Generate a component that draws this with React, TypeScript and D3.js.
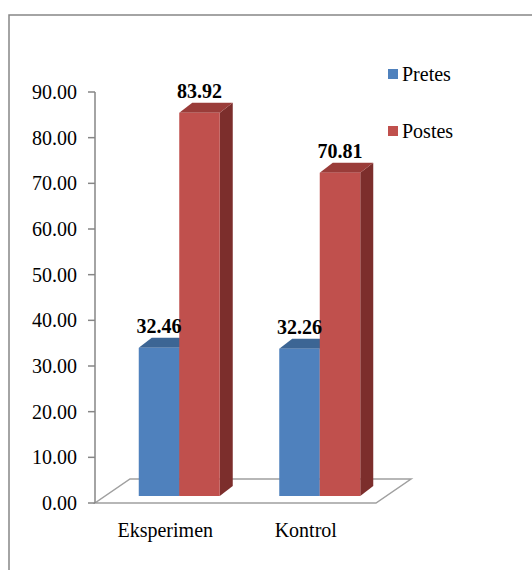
import React, { useEffect, useRef } from "react"
import * as d3 from "d3"

const categories = ["Eksperimen", "Kontrol"]
const seriesNames = ["Pretes", "Postes"]
const pretes = [32.46, 32.26]
const postes = [83.92, 70.81]
const yTicks = [0, 10, 20, 30, 40, 50, 60, 70, 80, 90]
const colors = ["#4F81BD", "#C0504D"]
const topColors = ["#3C6594", "#9A3C39"]
const sideColors = ["#345A85", "#7C2E2C"]

export default function App() {
  const svgRef = useRef<SVGSVGElement>(null)

  useEffect(() => {
    if (!svgRef.current) return
    const svg = d3.select(svgRef.current)
    svg.selectAll("*").remove()

    const font = "Times New Roman, Liberation Serif, DejaVu Serif, serif"

    // outer frame (cut off on the right and bottom)
    svg
      .append("rect")
      .attr("x", 9)
      .attr("y", 15)
      .attr("width", 600)
      .attr("height", 600)
      .attr("fill", "#fff")
      .attr("stroke", "#868686")
      .attr("stroke-width", 1.5)

    const x = d3.scaleBand<string>().domain(categories).range([95, 376])
    const y = d3.scaleLinear().domain([0, 90]).range([503, 92])

    // depth vectors
    const floorDx = 35
    const floorDy = -24
    const barShiftX = 14
    const barShiftY = -7
    const depthX = 13
    const depthY = -10
    const barW = 40.5

    // floor
    const x0 = x.range()[0]
    const x1 = x.range()[1]
    const y0 = y(0)
    svg
      .append("path")
      .attr(
        "d",
        `M${x0},${y0}L${x1},${y0}L${x1 + floorDx},${y0 + floorDy}L${x0 + floorDx},${y0 + floorDy}Z`
      )
      .attr("fill", "none")
      .attr("stroke", "#a0a0a0")
      .attr("stroke-width", 1.5)

    // y axis
    svg
      .append("line")
      .attr("x1", x0)
      .attr("x2", x0)
      .attr("y1", y(0))
      .attr("y2", y(90))
      .attr("stroke", "#868686")
      .attr("stroke-width", 1.5)

    const ticks = svg.append("g")
    yTicks.forEach((t) => {
      ticks
        .append("line")
        .attr("x1", x0 - 7)
        .attr("x2", x0)
        .attr("y1", y(t))
        .attr("y2", y(t))
        .attr("stroke", "#868686")
        .attr("stroke-width", 1.5)
      ticks
        .append("text")
        .attr("x", x0 - 18)
        .attr("y", y(t))
        .attr("dy", "0.35em")
        .attr("text-anchor", "end")
        .style("font-family", font)
        .style("font-size", "20px")
        .attr("fill", "#000")
        .text(t.toFixed(2))
    })

    // bars, drawn left to right so the red bar covers the blue side face
    const series = [pretes, postes]
    categories.forEach((cat, ci) => {
      const bandStart = x(cat)! + x.bandwidth() / 2 - barW
      series.forEach((vals, si) => {
        const v = vals[ci]
        const fx = bandStart + si * barW + barShiftX
        const fb = y(0) + barShiftY
        const ft = y(v) + barShiftY
        const g = svg.append("g")
        // side face
        g.append("path")
          .attr(
            "d",
            `M${fx + barW},${ft}L${fx + barW + depthX},${ft + depthY}L${fx + barW + depthX},${fb + depthY}L${fx + barW},${fb}Z`
          )
          .attr("fill", sideColors[si])
        // top face
        g.append("path")
          .attr(
            "d",
            `M${fx},${ft}L${fx + depthX},${ft + depthY}L${fx + barW + depthX},${ft + depthY}L${fx + barW},${ft}Z`
          )
          .attr("fill", topColors[si])
        // front face
        g.append("rect")
          .attr("x", fx)
          .attr("y", ft)
          .attr("width", barW)
          .attr("height", fb - ft)
          .attr("fill", colors[si])
      })
    })

    // data labels on top (drawn after all bars)
    categories.forEach((cat, ci) => {
      const bandStart = x(cat)! + x.bandwidth() / 2 - barW
      series.forEach((vals, si) => {
        const v = vals[ci]
        const fx = bandStart + si * barW + barShiftX
        svg
          .append("text")
          .attr("x", fx + barW / 2)
          .attr("y", y(v) + barShiftY + depthY - 5)
          .attr("text-anchor", "middle")
          .style("font-family", font)
          .style("font-size", "20px")
          .style("font-weight", "bold")
          .attr("fill", "#000")
          .text(v.toFixed(2))
      })
    })

    // category labels
    categories.forEach((cat) => {
      svg
        .append("text")
        .attr("x", x(cat)! + x.bandwidth() / 2)
        .attr("y", 537)
        .attr("text-anchor", "middle")
        .style("font-family", font)
        .style("font-size", "20px")
        .attr("fill", "#000")
        .text(cat)
    })

    // legend
    seriesNames.forEach((name, i) => {
      const ly = 74 + i * 57
      svg
        .append("rect")
        .attr("x", 388)
        .attr("y", ly - 5)
        .attr("width", 10)
        .attr("height", 10)
        .attr("fill", colors[i])
      svg
        .append("text")
        .attr("x", 402)
        .attr("y", ly)
        .attr("dy", "0.35em")
        .style("font-family", font)
        .style("font-size", "20px")
        .attr("fill", "#000")
        .text(name)
    })
  }, [])

  return (
    <svg
      ref={svgRef}
      width={532}
      height={570}
      style={{ position: "absolute", left: 0, top: 0, display: "block" }}
    />
  )
}
